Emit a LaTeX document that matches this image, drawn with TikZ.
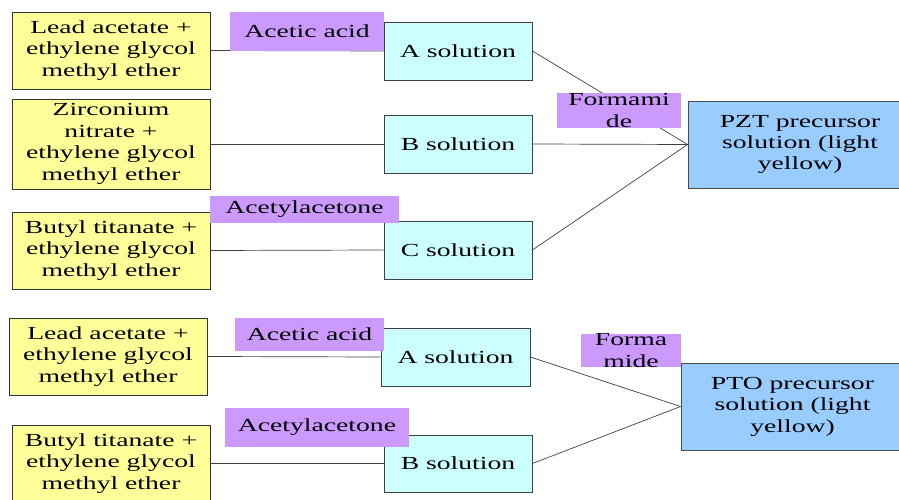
\documentclass[tikz,border=0pt]{standalone}
\usepackage{fontspec}
\setmainfont{Liberation Serif}[FakeStretch=1.5]
\definecolor{reagentfill}{HTML}{FFFF99}
\definecolor{solfill}{HTML}{CCFFFF}
\definecolor{addfill}{HTML}{CC99FF}
\definecolor{precfill}{HTML}{99CCFF}

\begin{document}
\begin{tikzpicture}[x=1bp,y=-1bp,
  every node/.style={font=\fontsize{18.5}{21.5}\selectfont,inner sep=0pt,align=center},
  reagent/.style={draw=black!80,line width=0.9bp,fill=reagentfill,minimum width=198bp,minimum height=77bp},
  sol/.style={draw=black!75,line width=0.9bp,fill=solfill,minimum width=148bp,minimum height=58bp},
  prec/.style={draw=black!70,line width=0.9bp,fill=precfill,minimum width=224bp,minimum height=87bp},
  additive/.style={fill=addfill},
  link/.style={draw=black!75,line width=0.7bp}]
\useasboundingbox (0,0) rectangle (899,500);

% PZT
\node[reagent] (lead1) at (111,50.5) {Lead acetate +\\ethylene glycol\\methyl ether};
\node[reagent,minimum height=90bp] (zr) at (111,144) {Zirconium\\nitrate +\\ethylene glycol\\methyl ether};
\node[reagent] (ti1) at (111,250.5) {Butyl titanate +\\ethylene glycol\\methyl ether};

\node[sol] (solA) at (458,51) {A solution};
\node[sol] (solB) at (458,144) {B solution};
\node[sol] (solC) at (458,250) {C solution};

\node[prec] (pzt) at (800,144.5) {PZT precursor\\solution (light\\yellow)};

\draw[link] (lead1.east) -- (solA.west);
\draw[link] (zr.east) -- (solB.west);
\draw[link] (ti1.east) -- (solC.west);
\draw[link] (solA.east) -- (pzt.west);
\draw[link] (solB.east) -- (pzt.west);
\draw[link] (solC.east) -- (pzt.west);

\node[additive,minimum width=154bp,minimum height=39bp] (acid1) at (307,31.5) {Acetic acid};
\node[additive,minimum width=189bp,minimum height=27bp] (acac1) at (304.5,209.5) {Acetylacetone};
\node[additive,minimum width=124bp,minimum height=35bp] (form1) at (619,110.5) {Formami\\de};

% PTO
\node[reagent] (lead2) at (108,356.5) {Lead acetate +\\ethylene glycol\\methyl ether};
\node[reagent] (ti2) at (111,463.5) {Butyl titanate +\\ethylene glycol\\methyl ether};

\node[sol,minimum width=149bp] (solA2) at (455.5,357) {A solution};
\node[sol,minimum height=57bp] (solB2) at (458,463.5) {B solution};

\node[prec,minimum width=223bp] (pto) at (792.5,406.5) {PTO precursor\\solution (light\\yellow)};

\draw[link] (lead2.east) -- (solA2.west);
\draw[link] (ti2.east) -- (solB2.west);
\draw[link] (solA2.east) -- (pto.west);
\draw[link] (solB2.east) -- (pto.west);

\node[additive,minimum width=149bp,minimum height=33bp] (acid2) at (309.5,334.5) {Acetic acid};
\node[additive,minimum width=184bp,minimum height=39bp] (acac2) at (317,427.5) {Acetylacetone};
\node[additive,minimum width=100bp,minimum height=33bp] (form2) at (631,350.5) {Forma\\mide};

\end{tikzpicture}
\end{document}
